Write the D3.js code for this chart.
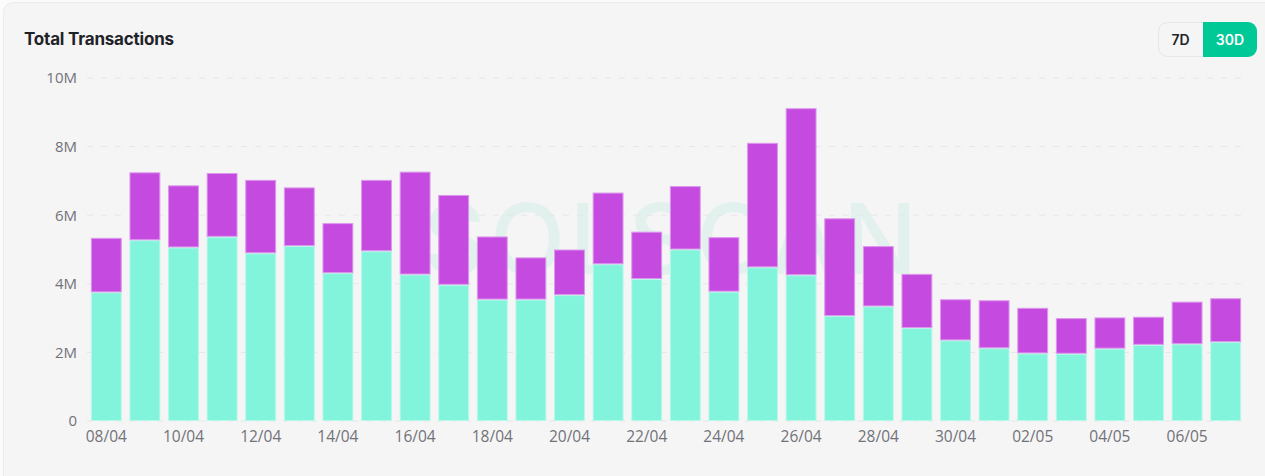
<!DOCTYPE html>
<html>
<head>
<meta charset="utf-8">
<script src="https://cdn.jsdelivr.net/npm/d3@7"></script>
<style>
  body { margin: 0; background: #fbfbfb; width: 1265px; height: 476px; overflow: hidden; }
  #card { position: absolute; left: 3px; top: 2px; width: 1280px; height: 500px;
          background: #f5f5f5; border: 1px solid #ebebeb; border-radius: 10px; }
  svg { position: absolute; left: 0; top: 0; }
</style>
</head>
<body>
<div id="card"></div>
<div id="chart"></div>
<script>
// dates shown on the x axis (one bar per day)
const days = ["08/04","09/04","10/04","11/04","12/04","13/04","14/04","15/04","16/04","17/04",
  "18/04","19/04","20/04","21/04","22/04","23/04","24/04","25/04","26/04","27/04",
  "28/04","29/04","30/04","01/05","02/05","03/05","04/05","05/05","06/05","07/05"];

// lower (green) part, in millions
const lower = [3.75,5.27,5.06,5.37,4.89,5.10,4.31,4.95,4.27,3.97,
  3.54,3.54,3.67,4.57,4.14,5.00,3.77,4.48,4.25,3.06,
  3.34,2.71,2.35,2.12,1.97,1.96,2.11,2.22,2.24,2.30];

// total height of each bar, in millions
const totals = [5.34,7.25,6.87,7.23,7.03,6.81,5.77,7.03,7.27,6.59,
  5.38,4.77,5.00,6.66,5.52,6.85,5.36,8.11,9.12,5.91,
  5.10,4.29,3.55,3.52,3.30,3.00,3.02,3.04,3.48,3.58];

const yTicks = [0, 2, 4, 6, 8, 10];
const tickText = ["0","2M","4M","6M","8M","10M"];

const W = 1265, H = 476;
const margin = {top: 78, left: 87, right: 20, bottom: 55};

const svg = d3.select("#chart").append("svg")
  .attr("width", W).attr("height", H);

// stacked rows
const rows = days.map((d, i) => ({day: d, a: lower[i], b: totals[i] - lower[i]}));
const series = d3.stack().keys(["a", "b"])(rows);

const x = d3.scaleBand()
  .domain(days)
  .range([margin.left, W - margin.right])
  .paddingInner(0.2)
  .paddingOuter(0.1);

const y = d3.scaleLinear()
  .domain([0, 10])
  .range([H - margin.bottom, margin.top]);

// title
svg.append("text")
  .attr("x", 24).attr("y", 45)
  .style("font-family", "Inter, sans-serif")
  .style("font-weight", 700)
  .style("font-size", "17px")
  .style("letter-spacing", "-0.2px")
  .attr("fill", "#1f2328")
  .text("Total Transactions");

// 7D / 30D switch
const sw = svg.append("g").attr("transform", "translate(1158,22)");
sw.append("rect").attr("x", 0.5).attr("y", 0.5).attr("width", 98).attr("height", 34)
  .attr("rx", 9).attr("fill", "#f5f5f5").attr("stroke", "#e6e6e6");
sw.append("path")
  .attr("d", "M45,0 H90 A9,9 0 0 1 99,9 V26 A9,9 0 0 1 90,35 H45 Z")
  .attr("fill", "#00c896");
sw.append("text").attr("x", 22.5).attr("y", 23)
  .attr("text-anchor", "middle")
  .style("font-family", "Inter, sans-serif").style("font-size", "14px").style("font-weight", 600)
  .attr("fill", "#1f2328").text("7D");
sw.append("text").attr("x", 72).attr("y", 23)
  .attr("text-anchor", "middle")
  .style("font-family", "Inter, sans-serif").style("font-size", "14px").style("font-weight", 600)
  .attr("fill", "#ffffff").text("30D");

// watermark
svg.append("text")
  .attr("x", 672)
  .attr("y", 274)
  .attr("text-anchor", "middle")
  .style("font-family", "Inter, sans-serif")
  .style("font-size", "98px")
  .style("font-weight", 500)
  .style("letter-spacing", "4px")
  .attr("fill", "#00c896")
  .attr("opacity", 0.07)
  .text("SOLSCAN");

// grid
svg.append("g")
  .selectAll("line")
  .data(yTicks)
  .join("line")
  .attr("x1", margin.left).attr("x2", W - margin.right)
  .attr("y1", d => y(d)).attr("y2", d => y(d))
  .attr("stroke", "#e6e6e6")
  .attr("stroke-dasharray", "6,8");

// y axis
const yAxis = svg.append("g")
  .attr("transform", `translate(${margin.left - 10},0)`)
  .call(d3.axisLeft(y).tickValues(yTicks).tickFormat((d, i) => tickText[i]).tickSize(0).tickPadding(0));
yAxis.select(".domain").remove();
yAxis.selectAll("text")
  .style("font-family", "'Open Sans', sans-serif")
  .style("font-size", "15px")
  .attr("fill", "#727279");

// x axis, every second day labelled
const xAxis = svg.append("g")
  .attr("transform", `translate(0,${H - margin.bottom})`)
  .call(d3.axisBottom(x).tickValues(days.filter((d, i) => i % 2 === 0)).tickSize(0).tickPadding(10));
xAxis.select(".domain").remove();
xAxis.selectAll("text")
  .style("font-family", "'Open Sans', sans-serif")
  .style("font-size", "15.5px")
  .attr("fill", "#727279");

// bars
const colors = ["#81f4db", "#c54be0"];
const edges = ["#b6f8ea", "#dc98ec"];
svg.append("g")
  .selectAll("g")
  .data(series)
  .join("g")
  .attr("fill", (d, i) => colors[i])
  .attr("stroke", (d, i) => edges[i])
  .selectAll("rect")
  .data(d => d)
  .join("rect")
  .attr("x", d => x(d.data.day) + 0.5)
  .attr("width", x.bandwidth() - 1)
  .attr("y", d => y(d[1]) + 0.5)
  .attr("height", d => Math.max(0, y(d[0]) - y(d[1]) - 1))
  .attr("stroke-width", 1);
</script>
</body>
</html>
